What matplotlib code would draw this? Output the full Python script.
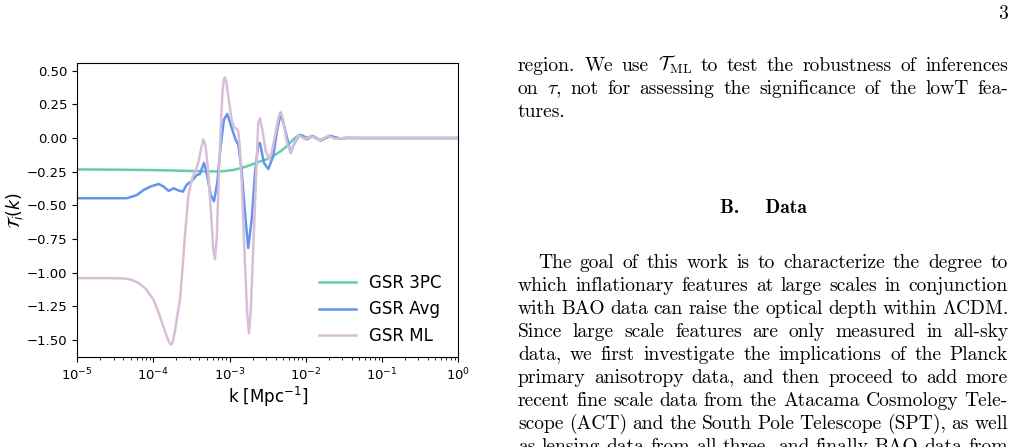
import numpy as np
import matplotlib
matplotlib.use("Agg")
import matplotlib.pyplot as plt

# log10(k) and transfer values
logk_3pc = [-5.0, -4.5, -4.0, -3.6, -3.3, -3.1, -2.95, -2.8, -2.7, -2.6, -2.5, -2.42,
            -2.33, -2.25, -2.18, -2.12, -2.077, -2.04, -2.012, -1.97, -1.924, -1.86,
            -1.80, -1.74, -1.684, -1.62, -1.552, -1.465, -1.3, 0.0]
t_3pc = [-0.233, -0.235, -0.238, -0.243, -0.248, -0.247, -0.237, -0.215, -0.195, -0.173,
         -0.155, -0.13, -0.098, -0.06, -0.02, 0.012, 0.022, 0.02, 0.008, 0.005, 0.015,
         -0.005, -0.02, 0.0, 0.018, 0.005, -0.005, 0.002, 0.0, 0.0]

logk_avg = [-5.0, -4.35, -4.217, -4.129, -4.042, -3.932, -3.866, -3.801, -3.735, -3.669,
            -3.613, -3.564, -3.499, -3.433, -3.39, -3.367, -3.337, -3.302, -3.249, -3.206,
            -3.163, -3.118, -3.075, -3.031, -2.987, -2.944, -2.92, -2.887, -2.843, -2.799,
            -2.756, -2.711, -2.668, -2.625, -2.602, -2.55, -2.493, -2.428, -2.38, -2.331,
            -2.28, -2.20, -2.15, -2.087, -1.99, -1.91, -1.815, -1.68, -1.56, -1.465, 0.0]
t_avg = [-0.447, -0.447, -0.423, -0.386, -0.361, -0.341, -0.361, -0.393, -0.373, -0.39,
         -0.398, -0.346, -0.321, -0.275, -0.267, -0.23, -0.185, -0.26, -0.42, -0.47,
         -0.334, -0.061, 0.136, 0.179, 0.10, 0.025, -0.015, -0.049, -0.235, -0.556,
         -0.816, -0.606, -0.26, -0.049, -0.037, -0.185, -0.23, -0.136, 0.05, 0.184,
         0.08, -0.109, -0.04, 0.023, -0.01, 0.015, -0.015, 0.015, -0.002, 0.0, 0.0]

logk_ml = [-5.0, -4.6, -4.4, -4.3, -4.2, -4.1, -4.0, -3.93, -3.87, -3.82, -3.79, -3.77,
           -3.75, -3.72, -3.69, -3.652, -3.62, -3.587, -3.56, -3.543, -3.51, -3.478,
           -3.44, -3.412, -3.38, -3.346, -3.32, -3.30, -3.281, -3.236, -3.215, -3.193,
           -3.17, -3.15, -3.118, -3.092, -3.077, -3.062, -3.045, -3.018, -2.974, -2.95,
           -2.93, -2.91, -2.887, -2.865, -2.843, -2.799, -2.77, -2.747, -2.725, -2.698,
           -2.655, -2.625, -2.602, -2.57, -2.53, -2.48, -2.45, -2.40, -2.36, -2.331,
           -2.30, -2.25, -2.2, -2.15, -2.1, -2.012, -1.924, -1.815, -1.706, -1.62, -1.55,
           -1.465, 0.0]
t_ml = [-1.04, -1.04, -1.042, -1.05, -1.075, -1.12, -1.2, -1.3, -1.4, -1.48, -1.52, -1.535,
        -1.52, -1.44, -1.33, -1.2, -0.98, -0.73, -0.55, -0.43, -0.34, -0.28,
        -0.23, -0.185, -0.09, -0.01, -0.05, -0.14, -0.26, -0.63, -0.83, -0.90,
        -0.75, -0.43, 0.06, 0.36, 0.43, 0.45, 0.42, 0.31, 0.14, 0.09,
        0.075, 0.07, 0.05, -0.08, -0.31, -0.93, -1.3, -1.45, -1.3, -0.93,
        -0.31, 0.11, 0.146, 0.06, -0.09, -0.16, -0.11, 0.03, 0.15, 0.195,
        0.14, -0.03, -0.106, -0.04, 0.02, -0.007, 0.013, -0.017, 0.017, -0.005, -0.002,
        0.0, 0.0]

series_names = ['GSR 3PC', 'GSR Avg', 'GSR ML']
series_colors = ['#66cdaa', '#6495ed', '#d8bfd8']

fig = plt.figure(figsize=(10.14, 4.47), dpi=100)
ax = fig.add_axes([0.0762, 0.2007, 0.3757, 0.6577])

for lk, t, name, c in zip([logk_3pc, logk_avg, logk_ml], [t_3pc, t_avg, t_ml],
                          series_names, series_colors):
    ax.plot(10.0 ** np.array(lk), t, color=c, lw=1.8, label=name)

ax.set_xscale('log')
ax.set_xlim(1e-5, 1e0)
ax.set_ylim(-1.628, 0.555)
ax.set_yticks([0.5, 0.25, 0.0, -0.25, -0.5, -0.75, -1.0, -1.25, -1.5])
ax.tick_params(labelsize=9.5)
ax.set_xlabel(r'k [Mpc$^{-1}$]', fontsize=12, labelpad=1)
ax.set_ylabel(r'$\mathcal{T}_i(k)$', fontsize=12.5, labelpad=1)
ax.legend(loc='lower right', frameon=False, fontsize=12, handlelength=2.2,
          borderaxespad=0.35, labelspacing=0.5, bbox_to_anchor=(0.9895, 0.0))

# page text to the right of the figure
lines_top = [
    r'region.  We use $\mathcal{T}_\mathrm{ML}$ to test the robustness of inferences',
    r'on $\tau$, not for assessing the significance of the lowT fea-',
    'tures.',
]
lines_body = [
    'The goal of this work is to characterize the degree to',
    'which inflationary features at large scales in conjunction',
    r'with BAO data can raise the optical depth within $\Lambda$CDM.',
    'Since large scale features are only measured in all-sky',
    'data, we first investigate the implications of the Planck',
    'primary anisotropy data, and then proceed to add more',
    'recent fine scale data from the Atacama Cosmology Tele-',
    'scope (ACT) and the South Pole Telescope (SPT), as well',
    'as lensing data from all three, and finally BAO data from',
]

fig.canvas.draw()
renderer = fig.canvas.get_renderer()

# pick a body size so that a full line fills the column at natural spacing
probe = fig.text(0, 0, lines_body[1], family='cmr10', fontsize=10)
body = 10 * 490 / probe.get_window_extent(renderer).width * 0.985
probe.remove()


def put_line(s, x0, x1, y, justify):
    words = s.split()
    objs = [fig.text(0, 1 - y / 447, w, family='cmr10', fontsize=body,
                     va='baseline', math_fontfamily='cm') for w in words]
    widths = [o.get_window_extent(renderer).width for o in objs]
    if justify and len(words) > 1:
        gap = (x1 - x0 - sum(widths)) / (len(words) - 1)
    else:
        gap = body * 100 / 72 * 0.333
    x = x0
    for o, w in zip(objs, widths):
        o.set_x(x / 1014)
        x += w + gap


fig.text(1003 / 1014, 1 - 19 / 447, '3', family='cmr10', fontsize=body,
         ha='center', va='baseline')

for i, s in enumerate(lines_top):
    put_line(s, 518, 1008, 71 + 23 * i, i < 2)

fig.text(763 / 1014, 1 - 213 / 447, 'B.    Data', family='cmb10', fontsize=body,
         ha='center', va='baseline')

for i, s in enumerate(lines_body):
    x0 = 538 if i == 0 else 518
    put_line(s, x0, 1008, 268 + 23 * i, True)

fig.savefig('out.png', dpi=100)
